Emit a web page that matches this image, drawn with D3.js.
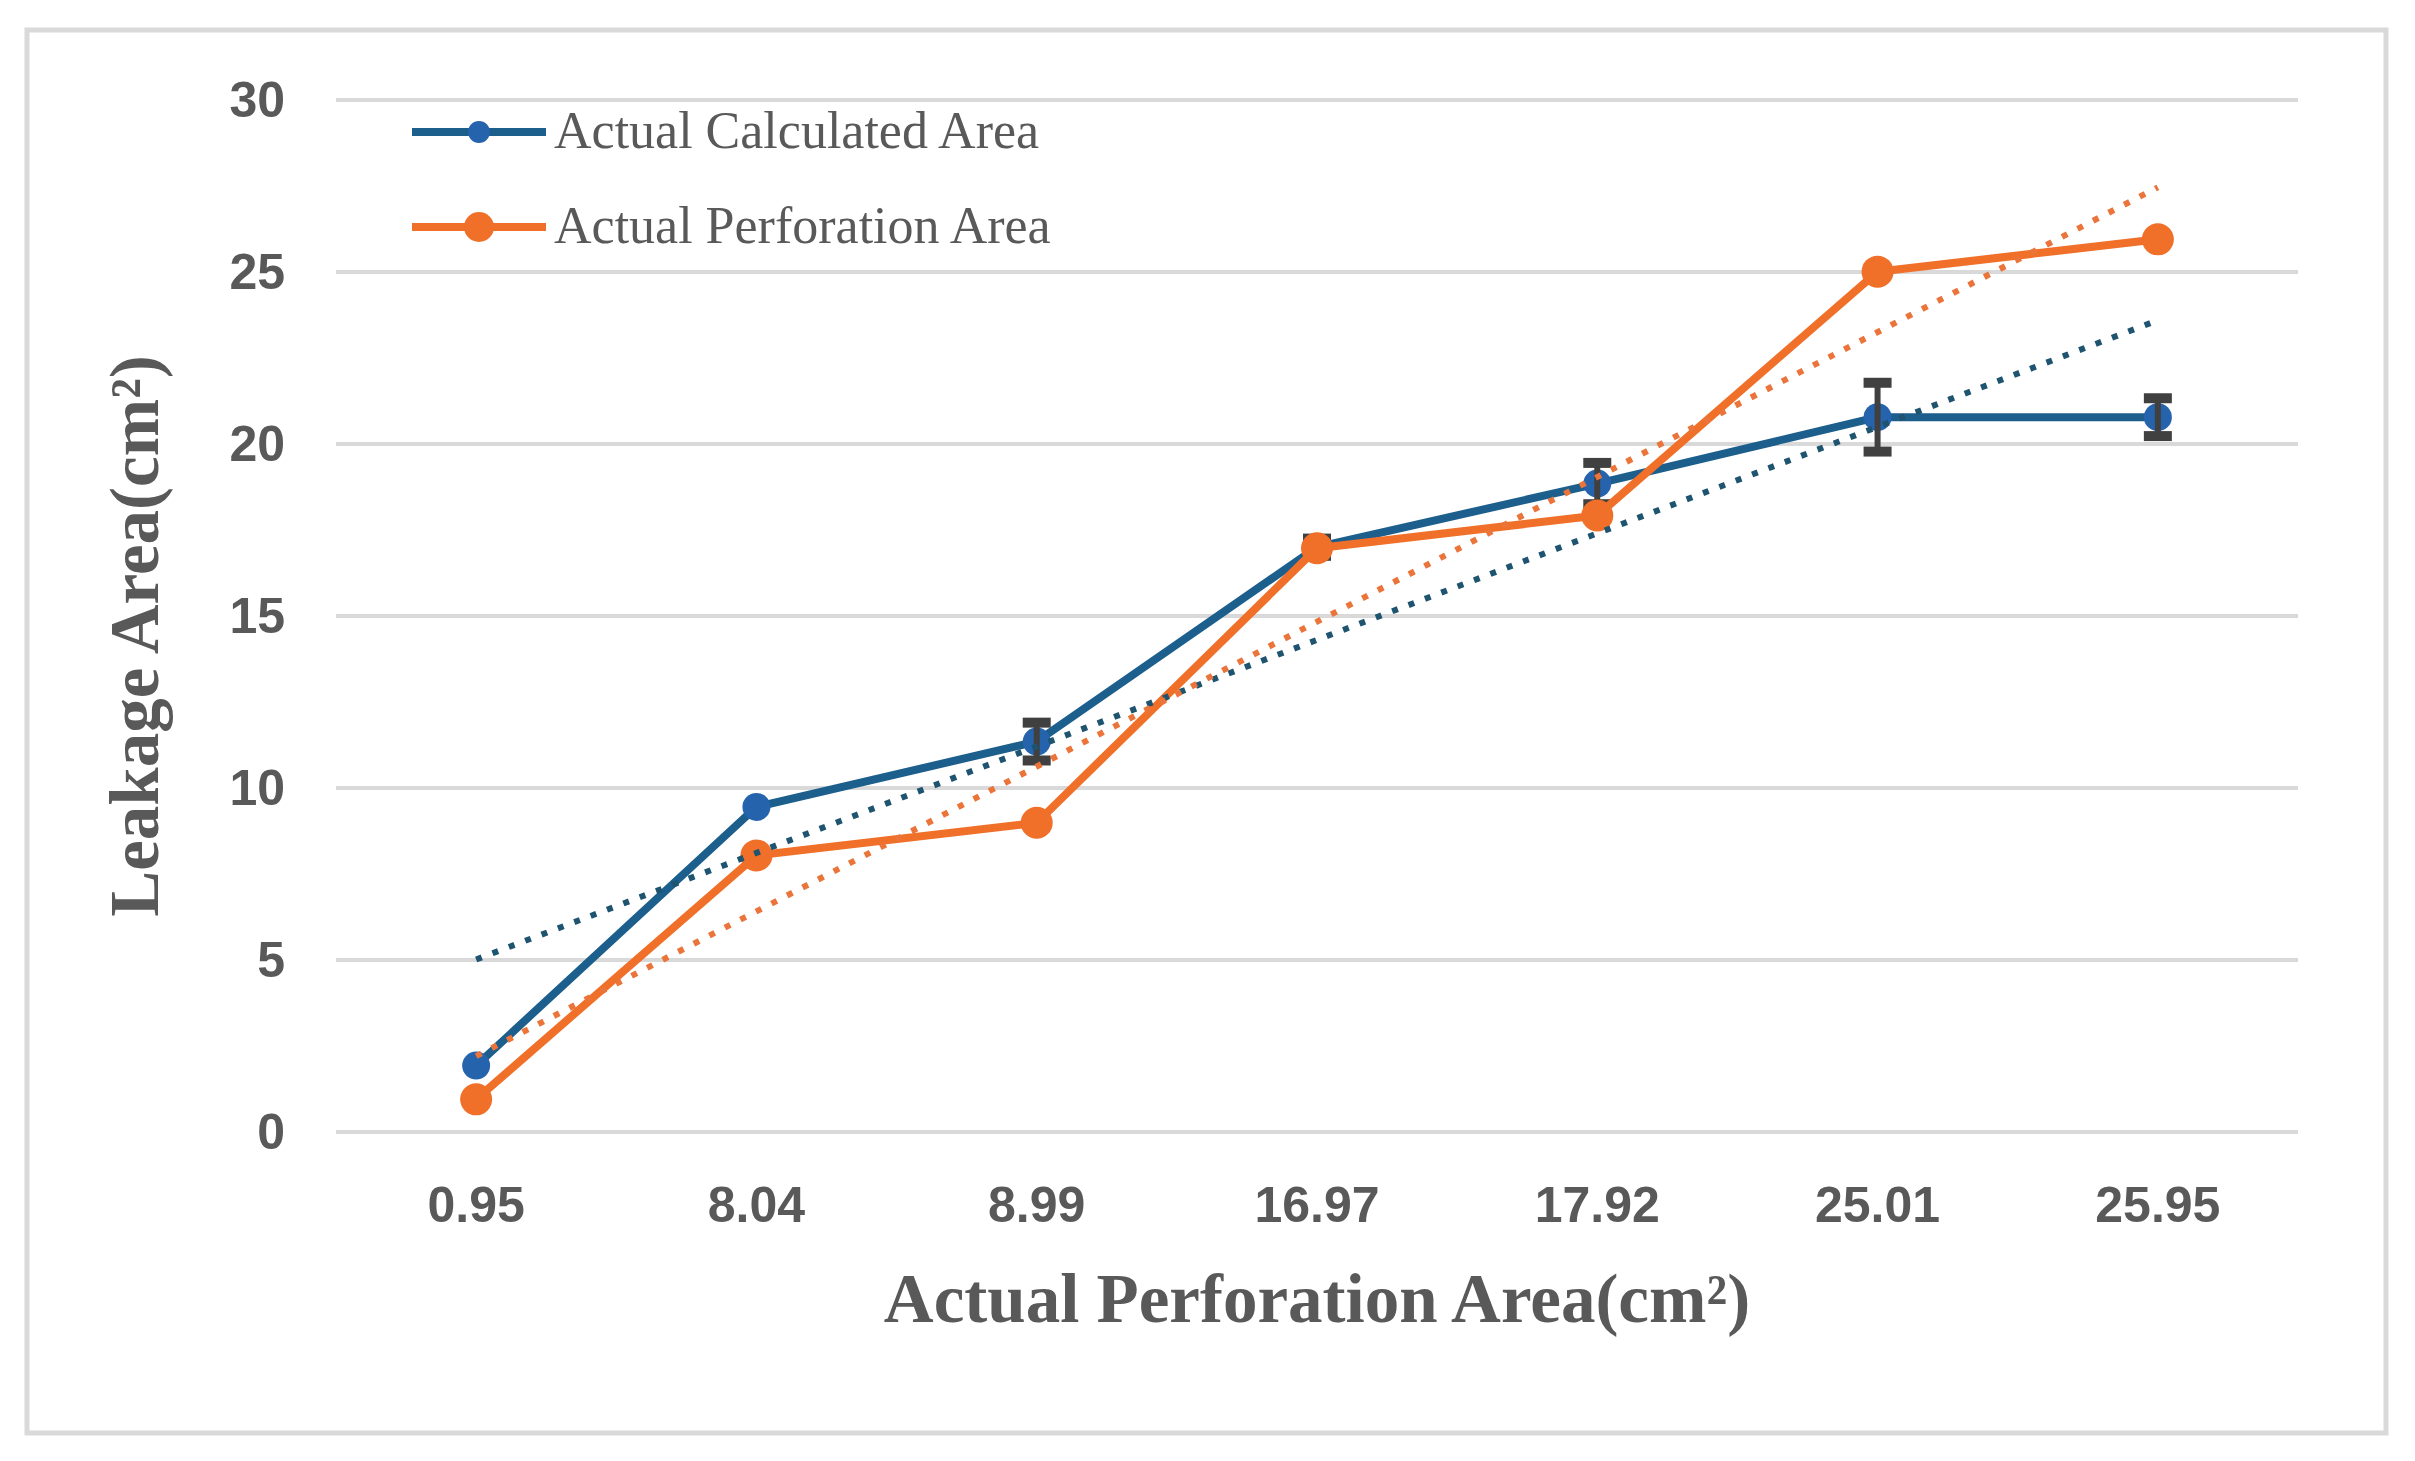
<!DOCTYPE html>
<html>
<head>
<meta charset="utf-8">
<script src="https://cdn.jsdelivr.net/npm/d3@7"></script>
<style>
  body { margin: 0; background: #fff; }
  svg { display: block; }
</style>
</head>
<body>
<script>
// data
var categories = ["0.95", "8.04", "8.99", "16.97", "17.92", "25.01", "25.95"];
var calculated = [1.93, 9.45, 11.35, 17.0, 18.85, 20.78, 20.78];
var calculatedErr = [0, 0, 0.55, 0.25, 0.6, 1.0, 0.55];
var perforation = [0.95, 8.04, 8.99, 16.97, 17.92, 25.01, 25.95];
var yTicks = [0, 5, 10, 15, 20, 25, 30];

var W = 2415, H = 1461;
var plotLeft = 336, plotRight = 2298, plotTop = 100, plotBottom = 1132;

var blueLine = "#1c5e8c", blueDot = "#2564ad", blueTrend = "#1f5470";
var orange = "#f07029", orangeTrend = "#ea7439";
var grey = "#595959";

const svg = d3.select("body").append("svg")
    .attr("width", W)
    .attr("height", H);

// outer frame
svg.append("rect")
    .attr("x", 27).attr("y", 30)
    .attr("width", 2359).attr("height", 1403)
    .attr("fill", "#fff")
    .attr("stroke", "#d9d9d9")
    .attr("stroke-width", 5);

var x = d3.scaleBand().domain(categories).range([plotLeft, plotRight]).padding(0);
var y = d3.scaleLinear().domain([0, 30]).range([plotBottom, plotTop]);
var cx = function (d, i) { return x(categories[i]) + x.bandwidth() / 2; };

//gridlines
svg.append("g").selectAll("line")
    .data(yTicks)
    .enter().append("line")
    .attr("x1", plotLeft).attr("x2", plotRight)
    .attr("y1", function (d) { return y(d); })
    .attr("y2", function (d) { return y(d); })
    .attr("stroke", "#d9d9d9")
    .attr("stroke-width", 4);

//axes (labels only)
var yAxis = svg.append("g")
    .attr("transform", "translate(" + plotLeft + ",0)")
    .call(d3.axisLeft(y).tickValues(yTicks).tickSize(0).tickPadding(51));
var xAxis = svg.append("g")
    .attr("transform", "translate(0," + plotBottom + ")")
    .call(d3.axisBottom(x).tickSize(0).tickPadding(54));
[yAxis, xAxis].forEach(function (a) {
    a.select(".domain").remove();
    a.selectAll("text")
        .attr("fill", grey)
        .style("font-family", "'Liberation Sans', Arial, sans-serif")
        .style("font-weight", "bold")
        .style("font-size", "50px");
});

//axis titles
svg.append("text")
    .attr("x", (plotLeft + plotRight) / 2)
    .attr("y", 1322)
    .attr("text-anchor", "middle")
    .attr("fill", grey)
    .style("font-family", "'Liberation Serif', 'Times New Roman', serif")
    .style("font-weight", "bold")
    .style("font-size", "69px")
    .text("Actual Perforation Area(cm²)");

svg.append("text")
    .attr("transform", "translate(158,636) rotate(-90)")
    .attr("text-anchor", "middle")
    .attr("fill", grey)
    .style("font-family", "'Liberation Serif', 'Times New Roman', serif")
    .style("font-weight", "bold")
    .style("font-size", "69px")
    .text("Leakage Area(cm²)");

var line = d3.line()
    .x(function (d, i) { return cx(d, i); })
    .y(function (d) { return y(d); });

//blue series
svg.append("path")
    .datum(calculated)
    .attr("d", line)
    .attr("fill", "none")
    .attr("stroke", blueLine)
    .attr("stroke-width", 8)
    .attr("stroke-linejoin", "round");
svg.append("g").selectAll("circle")
    .data(calculated)
    .enter().append("circle")
    .attr("cx", cx)
    .attr("cy", function (d) { return y(d); })
    .attr("r", 14)
    .attr("fill", blueDot);

//error bars
var errIdx = d3.range(calculated.length).filter(function (i) { return calculatedErr[i] > 0; });
var eb = svg.append("g").attr("stroke", "#404040");
eb.selectAll("line.stem")
    .data(errIdx)
    .enter().append("line")
    .attr("class", "stem")
    .attr("x1", function (i) { return cx(null, i); })
    .attr("x2", function (i) { return cx(null, i); })
    .attr("y1", function (i) { return y(calculated[i] + calculatedErr[i]); })
    .attr("y2", function (i) { return y(calculated[i] - calculatedErr[i]); })
    .attr("stroke-width", 6);
[1, -1].forEach(function (s) {
    eb.selectAll("line.cap" + (s > 0 ? "up" : "dn"))
        .data(errIdx)
        .enter().append("line")
        .attr("class", "cap" + (s > 0 ? "up" : "dn"))
        .attr("x1", function (i) { return cx(null, i) - 14; })
        .attr("x2", function (i) { return cx(null, i) + 14; })
        .attr("y1", function (i) { return y(calculated[i] + s * calculatedErr[i]); })
        .attr("y2", function (i) { return y(calculated[i] + s * calculatedErr[i]); })
        .attr("stroke-width", 10);
});

//orange series
svg.append("path")
    .datum(perforation)
    .attr("d", line)
    .attr("fill", "none")
    .attr("stroke", orange)
    .attr("stroke-width", 8)
    .attr("stroke-linejoin", "round");
svg.append("g").selectAll("circle")
    .data(perforation)
    .enter().append("circle")
    .attr("cx", cx)
    .attr("cy", function (d) { return y(d); })
    .attr("r", 16)
    .attr("fill", orange);

//linear trendlines over point index
function trend(vals) {
    var n = vals.length;
    var idx = d3.range(1, n + 1);
    var mx = d3.mean(idx), my = d3.mean(vals);
    var sxy = d3.sum(idx, function (k, i) { return (k - mx) * (vals[i] - my); });
    var sxx = d3.sum(idx, function (k) { return (k - mx) * (k - mx); });
    var b = sxy / sxx, a = my - b * mx;
    return [a + b * 1, a + b * n];
}
[[calculated, blueTrend], [perforation, orangeTrend]].forEach(function (t) {
    var ends = trend(t[0]);
    svg.append("line")
        .attr("x1", cx(null, 0))
        .attr("x2", cx(null, categories.length - 1))
        .attr("y1", y(ends[0]))
        .attr("y2", y(ends[1]))
        .attr("stroke", t[1])
        .attr("stroke-width", 6)
        .attr("stroke-dasharray", "6 11.5");
});

//legend
var legend = [
    { name: "Actual Calculated Area", line: blueLine, dot: blueDot, r: 11, y: 132 },
    { name: "Actual Perforation Area", line: orange, dot: orange, r: 15, y: 227 }
];
var lg = svg.append("g").selectAll("g")
    .data(legend)
    .enter().append("g");
lg.append("line")
    .attr("x1", 412).attr("x2", 546)
    .attr("y1", function (d) { return d.y; })
    .attr("y2", function (d) { return d.y; })
    .attr("stroke", function (d) { return d.line; })
    .attr("stroke-width", 8);
lg.append("circle")
    .attr("cx", 479)
    .attr("cy", function (d) { return d.y; })
    .attr("r", function (d) { return d.r; })
    .attr("fill", function (d) { return d.dot; });
lg.append("text")
    .attr("x", 554)
    .attr("y", function (d) { return d.y + 16; })
    .attr("fill", grey)
    .style("font-family", "'Liberation Serif', 'Times New Roman', serif")
    .style("font-size", "52px")
    .text(function (d) { return d.name; });
</script>
</body>
</html>
